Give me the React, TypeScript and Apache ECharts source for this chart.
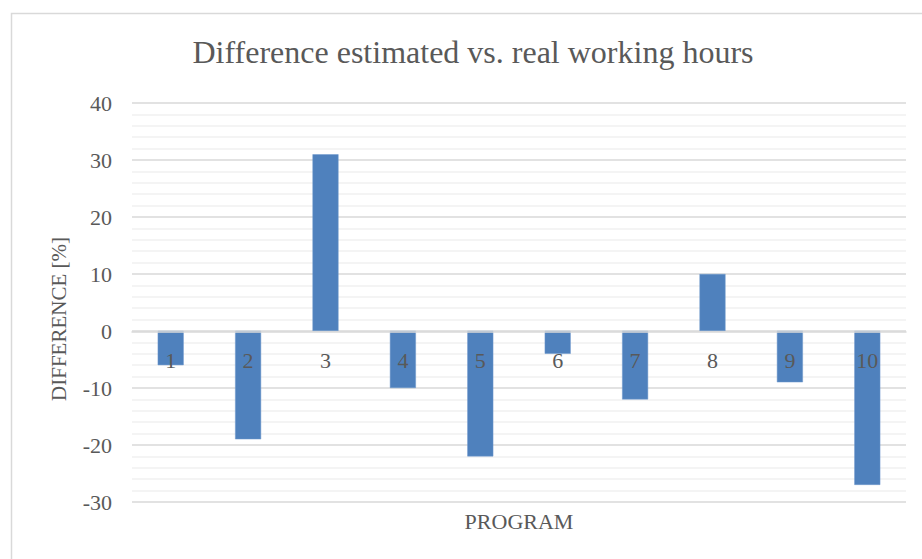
import React, { useEffect, useRef } from "react";
import * as echarts from "echarts";

const categories = ["1", "2", "3", "4", "5", "6", "7", "8", "9", "10"];
const differences = [-6, -19, 31, -10, -22, -4, -12, 10, -9, -27];
const chartTitle = "Difference estimated vs. real working hours";
const yTitle = "DIFFERENCE [%]";
const xTitle = "PROGRAM";

const FONT = "Liberation Serif";
const TEXT = "#595959";

export default function App() {
  const ref = useRef<HTMLDivElement>(null);
  useEffect(() => {
    document.body.style.margin = "0";
    const chart = echarts.init(ref.current!, null, { renderer: "svg" });
    chart.setOption({
      animation: false,
      backgroundColor: "#ffffff",
      textStyle: { fontFamily: FONT },
      grid: { left: 132, right: 16, top: 103, bottom: 57 },
      xAxis: {
        type: "category",
        data: categories,
        z: 10,
        offset: -170,
        axisLine: { onZero: false, lineStyle: { color: "#d9d9d9", width: 1.5 } },
        axisTick: { show: false },
        axisLabel: { color: TEXT, fontFamily: FONT, fontSize: 22, margin: 17 },
        splitLine: { show: false },
      },
      yAxis: {
        type: "value",
        min: -30,
        max: 40,
        interval: 10,
        axisLine: { show: false },
        axisTick: { show: false },
        axisLabel: { color: TEXT, fontFamily: FONT, fontSize: 22, margin: 20 },
        splitLine: { lineStyle: { color: "#d9d9d9", width: 1.5 } },
        minorTick: { show: false, splitNumber: 5 },
        minorSplitLine: { show: true, lineStyle: { color: "#f0f0f0", width: 1.5 } },
      },
      series: [
        {
          type: "bar",
          data: differences,
          barWidth: 26,
          itemStyle: { color: "#4F81BD", borderColor: "#6f98cc", borderWidth: 0.5 },
        },
      ],
      graphic: [
        {
          type: "rect",
          shape: { x: 11.5, y: 13.5, width: 1000, height: 1000 },
          style: { fill: "none", stroke: "#d9d9d9", lineWidth: 1.5 },
          silent: true,
        },
        {
          type: "text",
          x: 473,
          y: 52,
          style: {
            text: chartTitle,
            fontFamily: FONT,
            fontSize: 32,
            fill: TEXT,
            align: "center",
            verticalAlign: "middle",
          },
        },
        {
          type: "text",
          x: 59,
          y: 319,
          rotation: Math.PI / 2,
          style: {
            text: yTitle,
            fontFamily: FONT,
            fontSize: 21,
            fill: TEXT,
            align: "center",
            verticalAlign: "middle",
          },
        },
        {
          type: "text",
          x: 519,
          y: 521,
          style: {
            text: xTitle,
            fontFamily: FONT,
            fontSize: 22,
            fill: TEXT,
            align: "center",
            verticalAlign: "middle",
          },
        },
      ],
    });
    return () => chart.dispose();
  }, []);
  return <div ref={ref} style={{ width: 922, height: 559 }} />;
}
